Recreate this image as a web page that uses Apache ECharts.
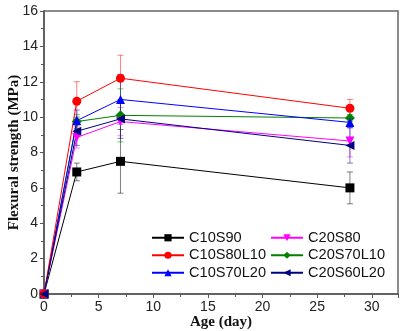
<!DOCTYPE html>
<html>
<head>
<meta charset="utf-8">
<script src="https://cdn.jsdelivr.net/npm/echarts@6/dist/echarts.min.js"></script>
<style>
  html, body { margin: 0; padding: 0; background: #fff; }
  #chart { width: 402px; height: 331px; }
</style>
</head>
<body>
<div id="chart"></div>
<script>
// age in days
var ages = [0, 3, 7, 28];

var names = ['C10S90', 'C10S80L10', 'C10S70L20', 'C20S80', 'C20S70L10', 'C20S60L20'];
var colors = ['#000000', '#ff0000', '#0000ff', '#ff00ff', '#008000', '#000080'];

// flexural strength (MPa)
var c10s90 = [0, 6.9, 7.5, 6.0];
var c10s80l10 = [0, 10.9, 12.2, 10.5];
var c10s70l20 = [0, 9.8, 11.0, 9.7];
var c20s80 = [0, 8.85, 9.75, 8.65];
var c20s70l10 = [0, 9.75, 10.1, 9.95];
var c20s60l20 = [0, 9.2, 9.9, 8.4];

// standard deviations
var errC10s90 = [0, 0.5, 1.8, 0.9];
var errC10s80l10 = [0, 1.1, 1.3, 0.5];
var errC10s70l20 = [0, 0.6, 1.4, 0.3];
var errC20s80 = [0, 0.6, 0.8, 0.9];
var errC20s70l10 = [0, 0.4, 1.5, 0.2];
var errC20s60l20 = [0, 0.8, 1.1, 1.0];

var values = [c10s90, c10s80l10, c10s70l20, c20s80, c20s70l10, c20s60l20];
var errors = [errC10s90, errC10s80l10, errC10s70l20, errC20s80, errC20s70l10, errC20s60l20];
var symbols = ['rect', 'circle', 'triangle', 'triangle', 'diamond', 'triangle'];
var rotations = [0, 0, 0, 180, 0, 90];

var chart = echarts.init(document.getElementById('chart'));

function errorBar(params, api) {
  var x = api.value(0);
  var top = api.coord([x, api.value(2)]);
  var bot = api.coord([x, api.value(1)]);
  var half = 3;
  var style = { stroke: api.visual('color'), lineWidth: 1, opacity: 0.5 };
  return {
    type: 'group',
    children: [
      { type: 'line', shape: { x1: top[0], y1: top[1], x2: bot[0], y2: bot[1] }, style: style },
      { type: 'line', shape: { x1: top[0] - half, y1: top[1], x2: top[0] + half, y2: top[1] }, style: style },
      { type: 'line', shape: { x1: bot[0] - half, y1: bot[1], x2: bot[0] + half, y2: bot[1] }, style: style }
    ]
  };
}

var series = [];
values.forEach(function (vals, i) {
  var errData = [];
  for (var k = 0; k < ages.length; k++) {
    if (errors[i][k] > 0) {
      errData.push([ages[k], vals[k] - errors[i][k], vals[k] + errors[i][k]]);
    }
  }
  series.push({
    type: 'custom',
    name: names[i] + ' err',
    color: colors[i],
    renderItem: errorBar,
    data: errData,
    z: 1,
    silent: true
  });
});
// draw lines in an order so the navy marker sits on top at the origin
var order = [0, 3, 4, 2, 1, 5];
order.forEach(function (i) {
  series.push({
    type: 'line',
    name: names[i],
    color: colors[i],
    data: ages.map(function (a, k) { return [a, values[i][k]]; }),
    symbol: symbols[i],
    symbolRotate: rotations[i],
    symbolSize: i === 4 ? 10 : 9,
    showAllSymbol: true,
    lineStyle: { width: 1, color: colors[i] },
    itemStyle: { color: colors[i] },
    z: 3
  });
});

var legendBase = {
  orient: 'vertical',
  padding: 0,
  itemWidth: 32,
  itemHeight: 9,
  itemGap: 0,
  textStyle: { fontFamily: 'Liberation Sans', fontSize: 14.6, color: '#111', lineHeight: 17.5 },
  selectedMode: false
};

chart.setOption({
  animation: false,
  backgroundColor: '#fff',
  grid: {
    left: 44, right: 4, top: 11, bottom: 37,
    outerBoundsMode: 'none',
    show: true, borderColor: '#666', borderWidth: 1.5
  },
  legend: [
    Object.assign({}, legendBase, { left: 151, top: 229, data: names.slice(0, 3) }),
    Object.assign({}, legendBase, { left: 270, top: 229, data: names.slice(3, 6) })
  ],
  xAxis: {
    type: 'value',
    min: 0,
    max: 32.4,
    interval: 5,
    name: 'Age (day)',
    nameLocation: 'middle',
    nameGap: 21,
    nameMoveOverlap: false,
    nameTextStyle: { fontFamily: 'Liberation Serif', fontWeight: 'bold', fontSize: 15, color: '#111' },
    axisLine: { lineStyle: { color: '#555', width: 1.5 } },
    axisTick: { show: true, length: 4, lineStyle: { color: '#555' } },
    minorTick: { show: true, splitNumber: 2, length: 3, lineStyle: { color: '#555' } },
    splitLine: { show: false },
    axisLabel: {
      fontFamily: 'Liberation Sans', fontSize: 14, color: '#222', margin: 6,
      showMaxLabel: false,
      formatter: function (v) { return v % 5 === 0 ? String(v) : ''; }
    }
  },
  yAxis: {
    type: 'value',
    min: 0,
    max: 16,
    interval: 2,
    name: 'Flexural strength (MPa)',
    nameLocation: 'middle',
    nameGap: 22,
    nameMoveOverlap: false,
    nameRotate: 90,
    nameTextStyle: { fontFamily: 'Liberation Serif', fontWeight: 'bold', fontSize: 15, color: '#111' },
    axisLine: { show: true, lineStyle: { color: '#555', width: 1.5 } },
    axisTick: { show: true, length: 4, lineStyle: { color: '#555' } },
    minorTick: { show: true, splitNumber: 2, length: 3, lineStyle: { color: '#555' } },
    splitLine: { show: false },
    axisLabel: { fontFamily: 'Liberation Sans', fontSize: 14, color: '#222', margin: 6 }
  },
  series: series
});
</script>
</body>
</html>
